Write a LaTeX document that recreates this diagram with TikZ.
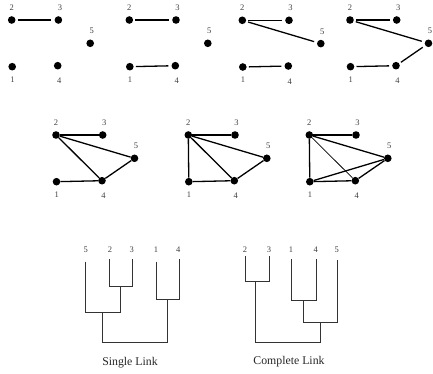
\documentclass[tikz,border=0pt]{standalone}
\usepackage{fontspec}
\setmainfont{Liberation Serif}
\tikzset{
  dot/.style={circle,fill=black,inner sep=0pt,minimum size=7.6pt},
  lab/.style={font=\fontsize{8.5}{9}\selectfont,inner sep=0pt,text=black!75},
  edge/.style={line width=1.3pt},
  thinedge/.style={line width=0.75pt},
  gap/.style={shorten <=2pt,shorten >=3pt},
  dend/.style={line width=0.8pt,black!80},
  caption/.style={font=\fontsize{11.8}{13}\selectfont,inner sep=0pt,text=black!85}
}
\newcommand\graphpanel[3]{%
  \begin{scope}[shift={(#2,#3)}]
    \node[dot] (#1-2) at (0,0) {};
    \node[dot] (#1-3) at (46.7,0) {};
    \node[dot] (#1-5) at (78.5,23.3) {};
    \node[dot] (#1-1) at (0.5,46.7) {};
    \node[dot] (#1-4) at (46,45.7) {};
    \node[lab] (#1-l2) at (0,-12.7) {2};
    \node[lab] (#1-l3) at (48.2,-12.7) {3};
    \node[lab] (#1-l5) at (80,-12.3+23.3) {5};
    \node[lab] (#1-l1) at (0.8,59.4) {1};
    \node[lab] (#1-l4) at (47.5,61) {4};
  \end{scope}}
\begin{document}
\begin{tikzpicture}[x=1pt,y=-1pt]
\useasboundingbox (0,0) rectangle (433,374);
% top row
\graphpanel{a}{11.7}{20}
\graphpanel{b}{129.3}{20}
\graphpanel{c}{242.3}{20.3}
\graphpanel{d}{350}{20}
\draw[edge,gap] (a-2) -- (a-3);
\draw[edge,gap] (b-2) -- (b-3);
\draw[edge,gap] (b-1) -- (b-4);
\draw[edge,gap] (c-2) -- (c-3);
\draw[edge,gap] (c-2) -- (c-5);
\draw[edge,gap] (c-1) -- (c-4);
\draw[edge,gap] (d-2) -- (d-3);
\draw[edge,gap] (d-2) -- (d-5);
\draw[edge,gap] (d-1) -- (d-4);
\draw[edge,gap] (d-4) -- (d-5);
% middle row
\graphpanel{e}{56}{135}
\graphpanel{f}{188.3}{135}
\graphpanel{g}{309.3}{135}
\draw[edge] (e-2) -- (e-3);
\draw[edge] (e-2) -- (e-5);
\draw[edge] (e-2) -- (e-4);
\draw[edge] (e-1) -- (e-4);
\draw[edge] (e-4) -- (e-5);
\draw[edge] (f-2) -- (f-3);
\draw[edge] (f-2) -- (f-5);
\draw[edge] (f-2) -- (f-4);
\draw[edge] (f-2) -- (f-1);
\draw[edge] (f-1) -- (f-4);
\draw[edge] (f-4) -- (f-5);
\draw[edge] (g-2) -- (g-3);
\draw[edge] (g-2) -- (g-5);
\draw[thinedge] (g-2) -- (g-4);
\draw[edge] (g-2) -- (g-1);
\draw[edge] (g-1) -- (g-4);
\draw[edge] (g-1) -- (g-5);
\draw[edge] (g-4) -- (g-5);
% single link dendrogram
\node[lab] (s5) at (85.7,249.3) {5};
\node[lab] (s2) at (110,249.3) {2};
\node[lab] (s3) at (131.7,249.3) {3};
\node[lab] (s1) at (156,249.3) {1};
\node[lab] (s4) at (178.3,249.3) {4};
\draw[dend] (109,259.3) -- (109,286) -- (132.7,286) -- (132.7,259.3);
\draw[dend] (85,261.7) -- (85,312.7) -- (120,312.7) -- (120,286);
\draw[dend] (156,261.7) -- (156,299) -- (179,299) -- (179,259.3);
\draw[dend] (102.3,312.7) -- (102.3,342.3) -- (167.7,342.3) -- (167.7,299);
\node[caption] (sl) at (130,362.7) {Single Link};
% complete link dendrogram
\node[lab] (c2l) at (245,249.3) {2};
\node[lab] (c3l) at (269,249.3) {3};
\node[lab] (c1l) at (291,249.3) {1};
\node[lab] (c4l) at (315.7,249.3) {4};
\node[lab] (c5l) at (336.7,249.3) {5};
\draw[dend] (245,256) -- (245,281.7) -- (269,281.7) -- (269,256);
\draw[dend] (291.7,259.3) -- (291.7,300) -- (316,300) -- (316,259.3);
\draw[dend] (303.3,300) -- (303.3,322.3) -- (337.3,322.3) -- (337.3,260);
\draw[dend] (255.7,281.7) -- (255.7,342.7) -- (320.7,342.7) -- (320.7,322.3);
\node[caption] (cl) at (289,361.7) {Complete Link};
\end{tikzpicture}
\end{document}
